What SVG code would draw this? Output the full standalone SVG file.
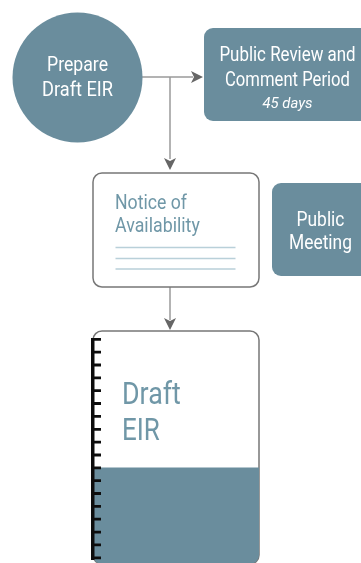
<svg xmlns="http://www.w3.org/2000/svg" width="361" height="563" viewBox="0 0 361 563">
<style>
text{font-family:"Roboto","Liberation Sans",sans-serif}
.f{fill:#6a8d9d}
.w{fill:#fff;text-anchor:middle}
.m{font-size:20.500px}
.t{fill:#6f97a7}
.c{stroke:#9a9a9a;stroke-width:1.5;fill:none}
.h{fill:#666}
.b{fill:#fff;stroke:#777;stroke-width:1.5}
.l{stroke:#b9d0d9;stroke-width:1.5}
.s{stroke:#111;stroke-width:2.8}
</style>
<defs>
<filter id="soft" x="-5%" y="-5%" width="110%" height="110%"><feGaussianBlur stdDeviation="0.35"/></filter>
<clipPath id="doc"><rect x="93" y="331" width="166" height="233" rx="9"/></clipPath>
</defs>
<g id="connectors">
<path class="c" d="M142 77H193M170 77V159M170 287V320"/>
<path class="h" d="M203 77L191 71L194 77L191 83ZM170 170L164 158L170 161L176 158ZM170 330L164 318L170 321L176 318Z"/>
</g>
<g id="prepare" filter="url(#soft)">
<circle class="f" cx="77.500" cy="77.500" r="65"/>
<text class="w m" transform="translate(77.500 71) scale(.84 1)" textLength="72.600" lengthAdjust="spacingAndGlyphs">Prepare</text>
<text class="w m" transform="translate(77.500 96) scale(.84 1)" textLength="84.500" lengthAdjust="spacingAndGlyphs">Draft EIR</text>
</g>
<g id="review" filter="url(#soft)">
<rect class="f" x="204" y="28" width="170" height="93" rx="9"/>
<text class="w m" transform="translate(287.500 61) scale(.84 1)" textLength="162" lengthAdjust="spacingAndGlyphs">Public Review and</text>
<text class="w m" transform="translate(287.500 86) scale(.84 1)" textLength="148.800" lengthAdjust="spacingAndGlyphs">Comment Period</text>
<text class="w" x="287.500" y="108" font-size="15" font-style="italic" textLength="50" lengthAdjust="spacingAndGlyphs">45 days</text>
</g>
<g id="notice" filter="url(#soft)">
<rect class="b" x="93" y="173" width="166" height="114" rx="9"/>
<text class="t" transform="translate(115 208.500) scale(.84 1)" font-size="21" textLength="85.700" lengthAdjust="spacingAndGlyphs">Notice of</text>
<text class="t" transform="translate(115 232) scale(.84 1)" font-size="21" textLength="101" lengthAdjust="spacingAndGlyphs">Availability</text>
<path class="l" d="M115.500 247.500H235.500M115.500 258.500H235.500M115.500 269H235.500"/>
</g>
<g id="meeting" filter="url(#soft)">
<rect class="f" x="272" y="183" width="100" height="93" rx="9"/>
<text class="w m" transform="translate(320.500 226) scale(.84 1)" textLength="57" lengthAdjust="spacingAndGlyphs">Public</text>
<text class="w m" transform="translate(320.500 249) scale(.84 1)" textLength="75" lengthAdjust="spacingAndGlyphs">Meeting</text>
</g>
<g id="draft" filter="url(#soft)">
<rect class="b" x="93" y="331" width="166" height="233" rx="9"/>
<rect class="f" x="93" y="467.500" width="166" height="97" clip-path="url(#doc)"/>
<text class="t" transform="translate(122 404) scale(.84 1)" font-size="32" textLength="70" lengthAdjust="spacingAndGlyphs">Draft</text>
<text class="t" transform="translate(122 440) scale(.84 1)" font-size="32" textLength="45" lengthAdjust="spacingAndGlyphs">EIR</text>
<rect x="91" y="338" width="3.500" height="222" fill="#111"/>
<path class="s" d="M93 339.300h8M93 352.200h8M93 365h8M93 377.900h8M93 390.700h8M93 403.500h8M93 416.400h8M93 429.300h8M93 442.100h8M93 455h8M93 467.800h8M93 480.700h8M93 493.500h8M93 506.400h8M93 519.200h8M93 532.100h8M93 544.900h8M93 557.800h8"/>
</g>
</svg>
